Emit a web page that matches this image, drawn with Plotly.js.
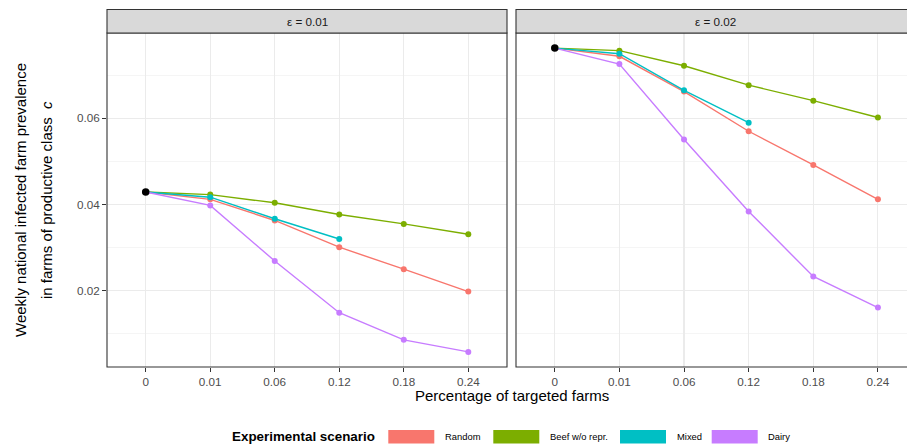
<!DOCTYPE html>
<html>
<head>
<meta charset="utf-8">
<script src="https://cdn.plot.ly/plotly-3.0.1.min.js"></script>
<style>html,body{margin:0;padding:0;background:#fff;}#chart{width:907px;height:447px;}</style>
</head>
<body>
<div id="chart"></div>
<script>
// ---- data ----
const categories = ['0', '0.01', '0.06', '0.12', '0.18', '0.24'];
const scenarios = ['Random', 'Beef w/o repr.', 'Mixed', 'Dairy'];
const colors = ['#F8766D', '#7CAE00', '#00BFC4', '#C77CFF'];
const panelLabels = ['\u03b5 = 0.01', '\u03b5 = 0.02'];

// baseline (0 targeted farms) per panel
const baselineE1 = 0.0429;
const baselineE2 = 0.0763;

// epsilon = 0.01, values at 0.01 .. 0.24
const randomE1 = [0.0412, 0.0363, 0.0301, 0.0250, 0.0198];
const beefE1   = [0.0423, 0.0404, 0.0377, 0.0355, 0.0331];
const mixedE1  = [0.0417, 0.0367, 0.0320];
const dairyE1  = [0.0398, 0.0269, 0.0149, 0.0086, 0.0058];

// epsilon = 0.02
const randomE2 = [0.0744, 0.0662, 0.0570, 0.0492, 0.0412];
const beefE2   = [0.0757, 0.0722, 0.0677, 0.0641, 0.0602];
const mixedE2  = [0.0750, 0.0665, 0.0590];
const dairyE2  = [0.0726, 0.0551, 0.0384, 0.0233, 0.0161];

const yTickVals = [0.02, 0.04, 0.06];
const yTickText = ['0.02', '0.04', '0.06'];

// ---- build traces ----
const FONT = 'Liberation Sans, Arial, Helvetica, sans-serif';
const panels = [
  {xa: 'x', ya: 'y', base: baselineE1, series: [randomE1, beefE1, mixedE1, dairyE1]},
  {xa: 'x2', ya: 'y2', base: baselineE2, series: [randomE2, beefE2, mixedE2, dairyE2]}
];
const traces = [];
panels.forEach(p => {
  p.series.forEach((vals, i) => {
    const ys = [p.base].concat(vals);
    traces.push({
      type: 'scatter', mode: 'lines+markers',
      x: categories.slice(0, ys.length), y: ys,
      xaxis: p.xa, yaxis: p.ya, name: scenarios[i], showlegend: false,
      line: {color: colors[i], width: 1.4},
      marker: {color: colors[i], size: 6},
      hoverinfo: 'x+y+name'
    });
  });
  traces.push({
    type: 'scatter', mode: 'markers', x: [categories[0]], y: [p.base],
    xaxis: p.xa, yaxis: p.ya, showlegend: false,
    marker: {color: '#000000', size: 7.5}
  });
});

// ---- layout ----
const W = 907, H = 447, ML = 107, MR = 0, MT = 33, MB = 80;
const PW = W - ML - MR, PH = H - MT - MB;
const px = v => (v - ML) / PW;        // pixel x -> paper
const py = v => (H - MB - v) / PH;    // pixel y -> paper

const xBase = {
  type: 'category', categoryorder: 'array', categoryarray: categories,
  tickmode: 'array', tickvals: categories, ticktext: categories,
  showgrid: true, gridcolor: '#EBEBEB', gridwidth: 1.1,
  zeroline: false, showline: false,
  ticks: 'outside', ticklen: 4, tickwidth: 1, tickcolor: '#333333',
  tickfont: {family: FONT, size: 11.7, color: '#4D4D4D'},
  fixedrange: true
};
const yBase = {
  range: [0.0023, 0.0798],
  tickmode: 'array', tickvals: yTickVals, ticktext: yTickText,
  showgrid: true, gridcolor: '#EBEBEB', gridwidth: 1.1,
  minor: {tick0: 0.01, dtick: 0.02, showgrid: true, gridcolor: '#F2F2F2', gridwidth: 0.8, ticks: ''},
  zeroline: false, showline: false,
  ticks: 'outside', ticklen: 4, tickwidth: 1, tickcolor: '#333333',
  tickfont: {family: FONT, size: 11.7, color: '#4D4D4D'},
  fixedrange: true
};

const stripTop = 1 + (MT - 9.5) / PH;
const shapes = [];
const annotations = [];
[['x', 'y', 1], ['x2', 'y2', 1.06]].forEach((a, k) => {
  // panel border
  shapes.push({type: 'rect', xref: a[0] + ' domain', yref: a[1] + ' domain',
    x0: 0, x1: a[2], y0: 0, y1: 1, line: {color: '#333333', width: 1.1},
    fillcolor: 'rgba(0,0,0,0)', layer: 'above'});
  // strip
  shapes.push({type: 'rect', xref: a[0] + ' domain', yref: 'paper',
    x0: 0, x1: a[2], y0: 1, y1: stripTop, line: {color: '#333333', width: 1.1},
    fillcolor: '#D9D9D9', layer: 'above'});
  annotations.push({xref: a[0] + ' domain', yref: 'paper',
    x: k === 0 ? 0.5 : 0.5115, y: (1 + stripTop) / 2, xanchor: 'center', yanchor: 'middle',
    text: panelLabels[k], showarrow: false,
    font: {family: FONT, size: 11.7, color: '#1A1A1A'}});
});

// axis titles
annotations.push({xref: 'paper', yref: 'paper', x: px(511.5), y: py(395),
  xanchor: 'center', yanchor: 'middle', showarrow: false,
  text: 'Percentage of targeted farms', font: {family: FONT, size: 15, color: '#000'}});
annotations.push({xref: 'paper', yref: 'paper', x: px(20), y: 0.5, textangle: -90,
  xanchor: 'center', yanchor: 'middle', showarrow: false,
  text: 'Weekly national infected farm prevalence', font: {family: FONT, size: 15, color: '#000'}});
annotations.push({xref: 'paper', yref: 'paper', x: px(46), y: 0.5, textangle: -90,
  xanchor: 'center', yanchor: 'middle', showarrow: false,
  text: 'in farms of productive class\u00a0\u00a0<i>c</i>', font: {family: FONT, size: 15, color: '#000'}});

// legend (drawn as key rectangles + labels)
const legendBoxX = [388.3, 493.3, 620, 711.7];
const keyW = 46, keyTop = 430, keyBot = 443.5, legY = 436.8;
annotations.push({xref: 'paper', yref: 'paper', x: px(376.5), y: py(legY),
  xanchor: 'right', yanchor: 'middle', showarrow: false,
  text: '<b>Experimental scenario</b>', font: {family: FONT, size: 13.4, color: '#000'}});
scenarios.forEach((s, i) => {
  shapes.push({type: 'rect', xref: 'paper', yref: 'paper',
    x0: px(legendBoxX[i]), x1: px(legendBoxX[i] + keyW), y0: py(keyBot), y1: py(keyTop),
    fillcolor: colors[i], line: {width: 0}});
  annotations.push({xref: 'paper', yref: 'paper', x: px(legendBoxX[i] + keyW + 8.5), y: py(legY),
    xanchor: 'left', yanchor: 'middle', showarrow: false,
    text: s, font: {family: FONT, size: 9.4, color: '#000'}});
});

const layout = {
  width: W, height: H,
  margin: {l: ML, r: MR, t: MT, b: MB, pad: 0},
  paper_bgcolor: '#FFFFFF', plot_bgcolor: '#FFFFFF',
  showlegend: false,
  font: {family: FONT},
  xaxis: Object.assign({}, xBase, {domain: [0, 0.5], range: [-0.6, 5.6], anchor: 'y'}),
  xaxis2: Object.assign({}, xBase, {domain: [px(516), 1], range: [-0.6, 5.45], anchor: 'y2'}),
  yaxis: Object.assign({}, yBase, {domain: [0, 1], anchor: 'x'}),
  yaxis2: Object.assign({}, yBase, {domain: [0, 1], anchor: 'x2', matches: 'y', showticklabels: false, ticks: ''}),
  shapes: shapes,
  annotations: annotations
};

Plotly.newPlot('chart', traces, layout, {displayModeBar: false, staticPlot: true});
</script>
</body>
</html>
